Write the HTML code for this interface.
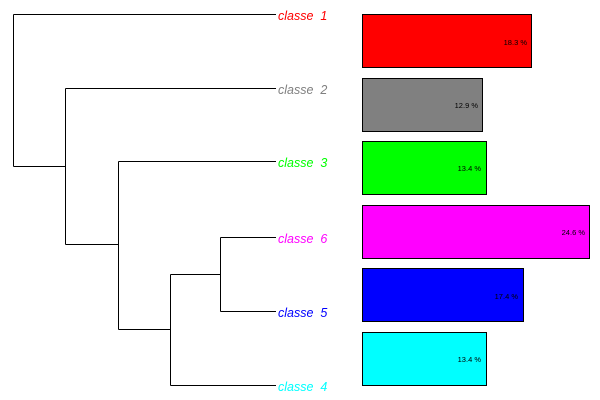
<!DOCTYPE html>
<html><head><style>body{margin:0;background:#fff}text{white-space:pre}</style></head><body>
<svg width="600" height="400" xmlns="http://www.w3.org/2000/svg" style="display:block">
<g stroke="#000" stroke-width="1" fill="none" shape-rendering="crispEdges">
<path d="M13.5 14.5V166.5M13.5 14.5H276M13.5 166.5H65.5"/>
<path d="M65.5 88.5V244.5M65.5 88.5H276M65.5 244.5H118.5"/>
<path d="M118.5 161.5V329.5M118.5 161.5H276M118.5 329.5H170.5"/>
<path d="M170.5 274.5V385.5M170.5 385.5H276M170.5 274.5H220.5"/>
<path d="M220.5 237.5V311.5M220.5 237.5H276M220.5 311.5H276"/>
</g>
<g font-family="Liberation Sans, sans-serif" font-style="italic" font-size="12.5" xml:space="preserve">
<text x="278" y="20" fill="#f00">classe  1</text>
<text x="278" y="94" fill="#808080">classe  2</text>
<text x="278" y="167" fill="#0f0">classe  3</text>
<text x="278" y="243" fill="#f0f">classe  6</text>
<text x="278" y="317" fill="#00f">classe  5</text>
<text x="278" y="391" fill="#0ff">classe  4</text>
</g>
<g stroke="#000" stroke-width="1" shape-rendering="crispEdges">
<rect x="362.5" y="14.5" width="169" height="53" fill="#f00"/>
<rect x="362.5" y="78.5" width="120" height="53" fill="#808080"/>
<rect x="362.5" y="141.5" width="124" height="53" fill="#0f0"/>
<rect x="362.5" y="205.5" width="227" height="53" fill="#f0f"/>
<rect x="362.5" y="268.5" width="161" height="53" fill="#00f"/>
<rect x="362.5" y="332.5" width="124" height="53" fill="#0ff"/>
</g>
<g font-family="Liberation Sans, sans-serif" font-size="7.5" fill="#000" text-anchor="end">
<text x="527" y="45">18.3 %</text>
<text x="478" y="108">12.9 %</text>
<text x="481" y="171">13.4 %</text>
<text x="585" y="235">24.6 %</text>
<text x="518" y="299">17.4 %</text>
<text x="481" y="362">13.4 %</text>
</g>
</svg>
</body></html>
